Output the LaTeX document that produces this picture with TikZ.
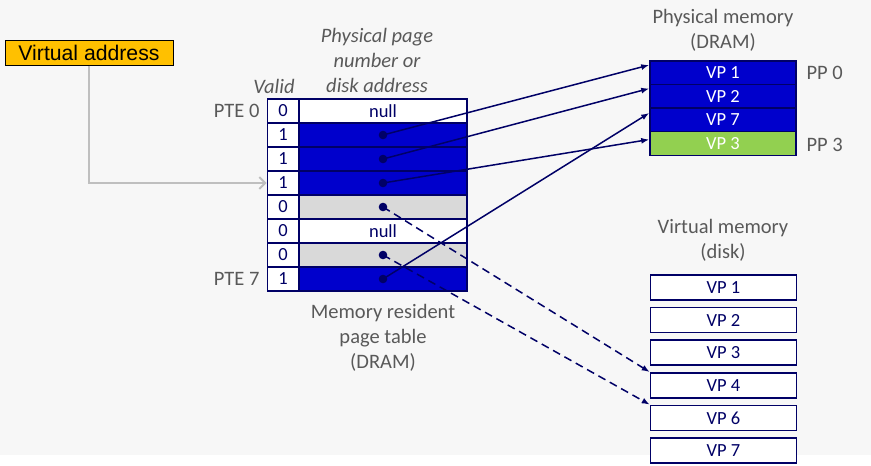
\documentclass[tikz,border=0pt]{standalone}
\usepackage{fontspec}
\setmainfont{Carlito}
\newfontfamily\arialfont{Liberation Sans}
\usepackage{xcolor}
\usetikzlibrary{arrows.meta}
\definecolor{navyline}{RGB}{0,0,102}
\definecolor{pageblue}{RGB}{0,0,204}
\definecolor{diskgray}{RGB}{217,217,217}
\definecolor{pagegreen}{RGB}{146,208,80}
\definecolor{labelgray}{RGB}{89,89,89}
\definecolor{bggray}{RGB}{247,247,247}
\definecolor{vaorange}{RGB}{255,192,0}
\definecolor{lightline}{RGB}{191,191,191}

\begin{document}
\begin{tikzpicture}[x=1pt,y=-1pt,
  cell/.style={draw=navyline,line width=1.6pt,minimum height=24pt,inner sep=0pt,
    text=navyline,font=\fontsize{18.5}{20}\selectfont},
  memcell/.style={cell,minimum width=146pt,text=white},
  diskcell/.style={cell,minimum width=146pt,minimum height=25pt,fill=white},
  caption/.style={text=labelgray,align=center,font=\fontsize{20.5}{25}\selectfont},
  link/.style={navyline,line width=1.5pt,-{Latex[length=8pt,width=6pt]}},
  disklink/.style={link,dash pattern=on 8pt off 5pt}]
\useasboundingbox (0,0) rectangle (871,466);
\fill[bggray] (0,0) rectangle (871,455);

% virtual address
\node[draw=black,line width=1pt,fill=vaorange,minimum width=168pt,minimum height=25pt,
  inner sep=0pt,font=\arialfont\fontsize{21.2}{22}\selectfont] (va) at (89,52.5) {Virtual address};

% page table
\foreach \i/\v/\f/\t in {0/0/white/null,1/1/pageblue/,2/1/pageblue/,3/1/pageblue/,
    4/0/diskgray/,5/0/white/null,6/0/diskgray/,7/1/pageblue/} {
  \node[cell,minimum width=168pt,fill=\f] (p\i) at (383,{111+24*\i}) {\t};
  \node[cell,minimum width=31pt,fill=white] (v\i) at (283,{111+24*\i}) {\v};
}
\node[caption,font=\itshape\fontsize{20.5}{25}\selectfont] (ppn) at (377,60) {Physical page\\number or\\disk address};
\node[caption,font=\itshape\fontsize{20.5}{25}\selectfont] (valid) at (274,86) {Valid};
\node[caption,anchor=east] (pte0) at (263,111) {PTE 0};
\node[caption,anchor=east] (pte7) at (263,279) {PTE 7};
\node[caption] (ptcap) at (383,338) {Memory resident\\page table\\(DRAM)};

% physical memory
\node[caption] (pmcap) at (723,30) {Physical memory\\(DRAM)};
\node[memcell,fill=pageblue] (m0) at (723,73) {VP 1};
\node[memcell,fill=pageblue] (m1) at (723,96.5) {VP 2};
\node[memcell,fill=pageblue] (m2) at (723,120) {VP 7};
\node[memcell,fill=pagegreen] (m3) at (723,143.5) {VP 3};
\node[caption,anchor=west] (pp0) at (803,73) {PP 0};
\node[caption,anchor=west] (pp3) at (803,145) {PP 3};

% virtual memory on disk
\node[caption] (vmcap) at (723,240) {Virtual memory\\(disk)};
\foreach \j/\t in {0/VP 1,1/VP 2,2/VP 3,3/VP 4,4/VP 6,5/VP 7}
  \node[diskcell] (d\j) at (723.5,{287.5+32.6*\j}) {\t};

% connectors
\draw[lightline,line width=2pt,-{Straight Barb[length=6pt,width=12pt]}] (va.south) |- (v3.west);
\foreach \i in {1,2,3,4,6,7}
  \fill[navyline] (p\i.center) circle (4.3pt);
\draw[link] (p1.center) -- ([yshift=8pt]m0.west);
\draw[link] (p2.center) -- ([yshift=8pt]m1.west);
\draw[link] (p3.center) -- ([yshift=4pt]m3.west);
\draw[link] (p7.center) -- ([yshift=7pt]m2.west);
\draw[disklink] (p4.center) -- (d3.north west);
\draw[disklink] (p6.center) -- (d4.north west);
\end{tikzpicture}
\end{document}
